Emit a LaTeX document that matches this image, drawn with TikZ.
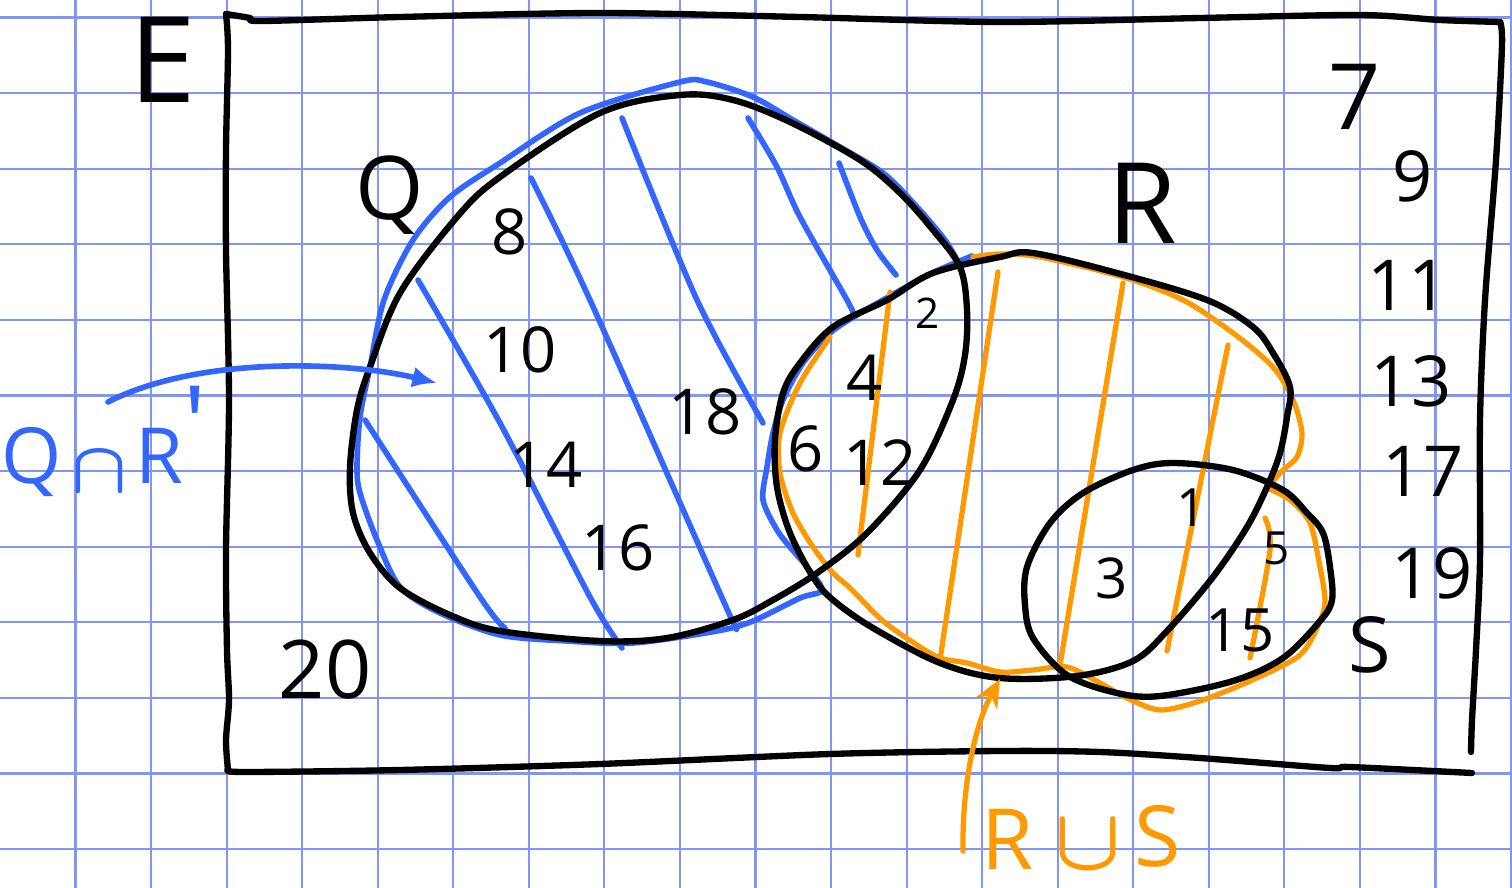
\documentclass[tikz,border=0pt]{standalone}
\usepackage{bm}
\usepackage{fontspec}
\setmainfont{Open Sans}
\usetikzlibrary{arrows.meta}
\definecolor{gridc}{RGB}{128,150,245}
\definecolor{penblue}{RGB}{51,102,255}
\definecolor{penorange}{RGB}{255,153,0}
\begin{document}
\begin{tikzpicture}[x=0.01cm,y=-0.01cm,
  ink/.style={line width=1.8pt, line cap=round, line join=round},
  blk/.style={ink, black},
  blu/.style={ink, penblue, line width=1.6pt},
  org/.style={ink, penorange, line width=1.5pt},
  gridline/.style={gridc, line width=0.6pt},
  lbl/.style={inner sep=0pt, font=\fontsize{#1}{#1}\selectfont},
  num/.style={lbl=18},
  col/.style={lbl=20},
  bluelbl/.style={lbl=22, text=penblue},
  orglbl/.style={lbl=24, text=penorange}]
\useasboundingbox (0,0) rectangle (1512,888);
\fill[white] (0,0) rectangle (1512,888);
% grid
\foreach \k in {1,...,20} \draw[gridline] (75.55*\k,0) -- (75.55*\k,888);
\foreach \k in {0,...,11} \draw[gridline] (0,17.5+75.6*\k) -- (1512,17.5+75.6*\k);

% universal set frame
\draw[blk] plot[smooth, tension=0.5] coordinates {(226,14) (250,18) (262,21) (400,17) (600,13) (800,17) (1000,22) (1200,18) (1360,15) (1440,20) (1500,22)};
\draw[blk] plot[smooth, tension=0.5] coordinates {(1500,22) (1502,45) (1496,160) (1485,300) (1480,420) (1480,560) (1476,650) (1472,720) (1471,752)};
\draw[blk] plot[smooth, tension=0.5] coordinates {(228,770) (245,772) (400,770) (600,764) (830,754) (1000,751) (1100,752) (1200,758) (1330,768) (1350,767) (1472,773)};
\draw[blk] plot[smooth, tension=0.5] coordinates {(226,14) (228,50) (226,150) (226,250) (229,400) (226,550) (227,650) (229,700) (226,740) (228,770)};

% blue hatching of Q minus R
\draw[blu] plot[smooth] coordinates {(418,280) (500,423) (590,597) (622,648)};
\draw[blu] plot[smooth] coordinates {(365,420) (480,597) (505,628)};
\draw[blu] plot[smooth] coordinates {(531,178) (590,300) (723,600) (735,625)};
\draw[blu] plot[smooth] coordinates {(622,118) (697,300) (763,423)};
\draw[blu] plot[smooth] coordinates {(748,118) (777,167) (800,217) (847,300) (853,313)};
\draw[blu] plot[smooth] coordinates {(839,163) (860,217) (877,250) (896,275)};
% blue outline
\draw[blu] plot[smooth, tension=0.5] coordinates {(972,256) (930,274) (883,300) (857,315) (830,333) (803,363) (783,400) (773,433) (767,467) (763,500) (777,530) (790,547) (807,567) (822,590) (800,598) (753,621) (717,631) (633,643) (567,641) (500,635) (440,613) (400,587) (377,540) (360,493) (357,467) (360,417) (370,367) (384,300) (413,240) (450,197) (500,163) (580,113) (680,82) (707,82) (753,97) (793,120) (833,143) (883,173) (917,207) (945,240) (958,262)};

% orange hatching of R union S
\draw[org] (890,292) -- (858,555);
\draw[org] (998,272) -- (940,660);
\draw[org] (1123,283) -- (1060,665);
\draw[org] plot[smooth] coordinates {(1228,345) (1207,450) (1167,651)};
\draw[org] plot[smooth] coordinates {(1265,518) (1270,550) (1250,658)};
% orange outline
\draw[org] plot[smooth, tension=0.5] coordinates {(973,257) (1000,254) (1040,257) (1123,277) (1183,300) (1233,333) (1273,367) (1293,400) (1302,433) (1297,457) (1283,470) (1267,488)};
\draw[org] plot[smooth, tension=0.5] coordinates {(1267,488) (1290,500) (1310,523) (1320,567) (1325,600) (1320,621) (1300,655) (1250,681) (1200,701) (1160,710) (1127,698) (1100,683) (1067,667) (1033,670) (1000,672) (967,663) (940,658) (917,645) (883,621) (850,588) (833,573) (813,547) (793,513) (780,473) (780,433) (800,383) (830,337)};

% sets Q, R, S
\draw[blk] plot[smooth cycle, tension=0.55] coordinates {(680,95) (733,100) (790,122) (860,160) (900,193) (933,230) (960,267) (967,310) (965,355) (953,400) (920,470) (867,533) (817,573) (773,600) (733,620) (667,638) (600,641) (500,631) (450,615) (400,588) (370,553) (353,513) (350,467) (357,410) (370,367) (400,293) (457,217) (500,177) (600,113)};
\draw[blk] plot[smooth cycle, tension=0.55] coordinates {(1033,253) (1117,273) (1207,300) (1253,327) (1273,353) (1290,387) (1287,417) (1280,453) (1267,487) (1247,527) (1213,577) (1167,631) (1133,661) (1077,676) (1000,678) (940,663) (873,628) (833,600) (813,577) (790,533) (777,487) (775,440) (783,393) (800,363) (833,327) (887,300) (933,273) (1000,257)};
\draw[blk] plot[smooth cycle, tension=0.55] coordinates {(1173,463) (1233,470) (1283,490) (1307,513) (1323,533) (1330,567) (1332,600) (1320,621) (1283,658) (1233,681) (1160,696) (1117,693) (1067,675) (1033,638) (1025,605) (1027,567) (1050,523) (1083,493) (1133,470)};

% set labels
\node[lbl=34] (E) at (163,60) {E};
\node[lbl=25] (Q) at (390,195) {Q};
\node[lbl=32] (R) at (1142,203) {R};
\node[lbl=22] (S) at (1370,645) {S};

% elements
\node[num] (n8) at (510,232) {8};
\node[num] (n10) at (520,350) {10};
\node[num] (n14) at (546,465) {14};
\node[num] (n16) at (618,548) {16};
\node[num] (n18) at (705,412) {18};
\node[num] (n6) at (806,449) {6};
\node[num] (n4) at (865,378) {4};
\node[num] (n12) at (880,463) {12};
\node[lbl=12] (n2) at (928,313) {2};
\node[lbl=16] (n3) at (1112,578) {3};
\node[lbl=15] (n1) at (1192,508) {1};
\node[lbl=13] (n5) at (1277,548) {5};
\node[lbl=17] (n15) at (1240,630) {15};
\node[lbl=26] (n7) at (1355,97) {7};
\node[col] (n9) at (1413,176) {9};
\node[col] (n11) at (1408,285) {11};
\node[col] (n13) at (1411,381) {13};
\node[col] (n17) at (1423,471) {17};
\node[col] (n19) at (1432,573) {19};
\node[lbl=23] (n20) at (325,670) {20};

% blue annotation
\node[bluelbl] (bq) at (32,462) {Q};
\node[bluelbl, font=\fontsize{21}{21}\selectfont] (bcap) at (99,472) {$\bm{\cap}$};
\node[bluelbl, anchor=base west] (br) at (135,483) {R\raisebox{6pt}{\fontsize{30}{30}\selectfont\textquotesingle}};
\coordinate (qa) at (108,402);
\coordinate (qb) at (437,383);
\draw[blu, -{Latex[length=7pt,width=6pt]}] (qa) .. controls (200,355) and (350,362) .. (qb);

% orange annotation
\node[orglbl] (or) at (1008,839) {R};
\node[orglbl] (ou) at (1088,845) {$\bm{\cup}$};
\node[orglbl] (os) at (1158,836) {S};
\coordinate (oa) at (963,851);
\coordinate (ob) at (1000,679);
\draw[org, -{Stealth[length=8pt,width=7pt]}] (oa) .. controls (962,770) and (980,715) .. (ob);
\end{tikzpicture}
\end{document}
